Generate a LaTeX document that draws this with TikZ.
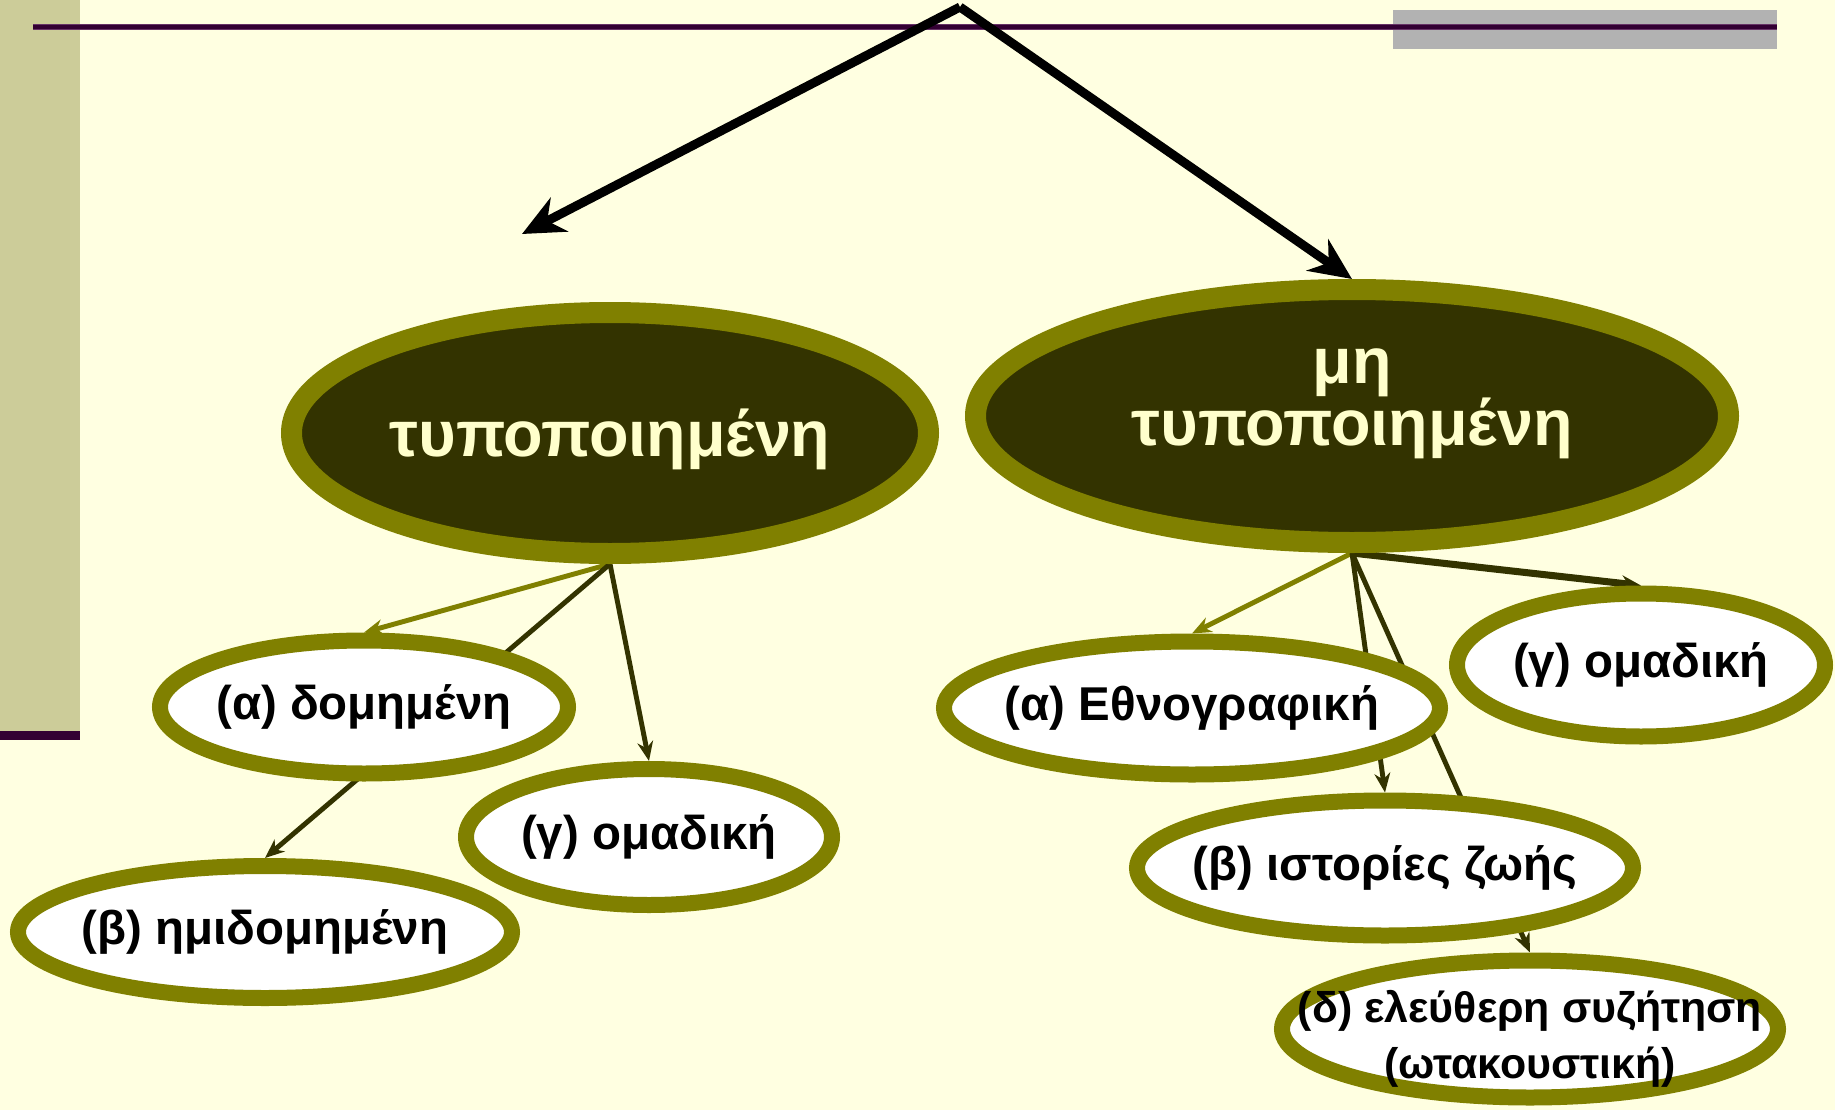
\documentclass[tikz,border=0pt]{standalone}
\usepackage{fontspec}
\setmainfont{Liberation Sans}
\usepackage{tikz}
\usetikzlibrary{positioning,shapes.geometric,arrows.meta}
\definecolor{bgyellow}{HTML}{FFFFE1}
\definecolor{khaki}{HTML}{CCCC99}
\definecolor{oliv}{HTML}{808000}
\definecolor{darkolive}{HTML}{333300}
\definecolor{cream}{HTML}{FFFFCC}
\definecolor{plum}{HTML}{330033}
\definecolor{plumedge}{HTML}{663366}
\definecolor{bargrey}{HTML}{B2B2B2}
\pgfdeclarelayer{back}
\pgfdeclarelayer{links}
\pgfsetlayers{back,links,main}
\begin{document}
\begin{tikzpicture}[>={Stealth[length=5.5pt,width=4.5pt]},
    big/.style={ellipse,draw=oliv,fill=darkolive,line width=0.21cm,inner sep=0pt,
      text=cream,font=\fontsize{18.4}{17.4}\selectfont\bfseries,align=center},
    small/.style={ellipse,draw=oliv,fill=white,line width=0.16cm,inner xsep=-1cm,inner ysep=0pt,
      font=\fontsize{13.5}{15.9}\selectfont\bfseries,align=center},
    link/.style={->,line width=1.4pt,draw=darkolive},
    pale/.style={->,line width=1.4pt,draw=oliv},
    bigarrow/.style={-{Stealth[length=0.42cm,width=0.38cm]},line width=0.09cm}
    ]
    \useasboundingbox (0,0) rectangle (18.35,11.10);
    \begin{pgfonlayer}{back}
    \fill[bgyellow] (0,0) rectangle (18.35,11.10);
    \fill[khaki] (0,3.79) rectangle (0.80,11.10);
    \fill[plum] (0,3.70) rectangle (0.80,3.79);
    \fill[bargrey] (13.93,10.61) rectangle (17.77,11.00);
    \draw[plumedge,line width=0.06cm] (0.33,10.835) -- (17.77,10.835);
    \draw[plum,line width=0.04cm] (0.33,10.835) -- (17.77,10.835);
    \end{pgfonlayer}
    \node[big,minimum width=6.37cm,minimum height=2.41cm,text height=0.6cm,text depth=0.13cm] at (6.10,6.77) (formal) {τυποποιημένη};
    \node[big,minimum width=7.53cm,minimum height=2.53cm,text height=0.71cm,text depth=0.13cm] at (13.52,6.94) (informal) {μη\\τυποποιημένη};
    \node[small,minimum width=4.08cm,minimum height=1.33cm] at (3.64,4.03) (struct) {(α) δομημένη};
    \node[small,minimum width=4.94cm,minimum height=1.32cm] at (2.65,1.78) (semi) {(β) ημιδομημένη};
    \node[small,minimum width=3.66cm,minimum height=1.36cm] at (6.49,2.73) (groupa) {(γ) ομαδική};
    \node[small,minimum width=4.96cm,minimum height=1.33cm] at (11.92,4.02) (ethno) {(α) Εθνογραφική};
    \node[small,minimum width=3.68cm,minimum height=1.43cm] at (16.41,4.45) (groupb) {(γ) ομαδική};
    \node[small,minimum width=4.96cm,minimum height=1.35cm] at (13.85,2.42) (life) {(β) ιστορίες ζωής};
    \node[small,minimum width=4.96cm,minimum height=1.37cm,inner ysep=-0.4cm,font=\fontsize{12.2}{15.9}\selectfont\bfseries,
      text height=1.08cm,text depth=0.1cm] at (15.30,0.81) (free) {(δ) ελεύθερη συζήτηση\\(ωτακουστική)};
    \begin{pgfonlayer}{links}
    \draw[pale] (formal.south) -- (struct.north);
    \draw[link] (formal.south) -- (semi.north);
    \draw[link] (formal.south) -- (groupa.north);
    \draw[pale] (informal.south) -- (ethno.north);
    \draw[link,line width=2pt] (informal.south) -- (groupb.north);
    \draw[link] (informal.south) -- (life.north);
    \draw[link] (informal.south) -- (free.north);
    \end{pgfonlayer}
    \coordinate (apex) at (9.60,11.03);
    \coordinate (lefttip) at (5.22,8.76);
    \draw[bigarrow] (apex) -- (lefttip);
    \draw[bigarrow] (apex) -- (informal.north);
\end{tikzpicture}
\end{document}
